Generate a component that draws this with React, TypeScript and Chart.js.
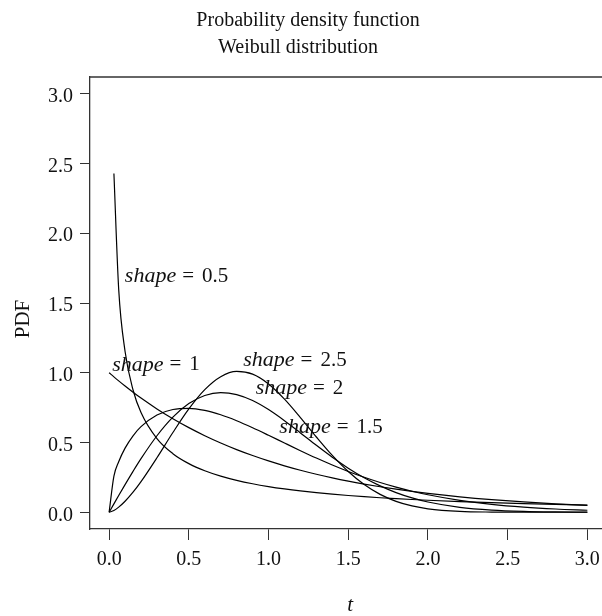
import React, { useEffect, useRef } from "react";
import { Chart, registerables } from "chart.js";

Chart.register(...registerables);

// time grid t
const tValues = [0, 0.03, 0.06, 0.1, 0.15, 0.2, 0.3, 0.4, 0.5, 0.6, 0.7, 0.8, 0.9, 1.0, 1.1, 1.2, 1.3, 1.4, 1.5, 1.6, 1.7, 1.8, 1.9, 2.0, 2.2, 2.4, 2.6, 2.8, 3.0];

// Weibull PDF values (scale 1) for each shape
const pdfShape05 = [null, 2.4276, 1.5977, 1.1525, 0.8764, 0.7149, 0.5279, 0.4200, 0.3487, 0.2975, 0.2589, 0.2286, 0.2041, 0.1839, 0.1670, 0.1526, 0.1402, 0.1294, 0.1200, 0.1116, 0.1041, 0.0974, 0.0914, 0.0860, 0.0765, 0.0686, 0.0618, 0.0561, 0.0511];
const pdfShape1 = [1.0, 0.9704, 0.9418, 0.9048, 0.8607, 0.8187, 0.7408, 0.6703, 0.6065, 0.5488, 0.4966, 0.4493, 0.4066, 0.3679, 0.3329, 0.3012, 0.2725, 0.2466, 0.2231, 0.2019, 0.1827, 0.1653, 0.1496, 0.1353, 0.1108, 0.0907, 0.0743, 0.0608, 0.0498];
const pdfShape15 = [0, 0.2585, 0.3621, 0.4596, 0.5482, 0.6134, 0.6971, 0.7366, 0.7448, 0.7300, 0.6987, 0.6560, 0.6059, 0.5518, 0.4963, 0.4414, 0.3884, 0.3386, 0.2926, 0.2507, 0.2132, 0.1799, 0.1507, 0.1254, 0.0852, 0.0564, 0.0366, 0.0232, 0.0144];
const pdfShape2 = [0, 0.0599, 0.1196, 0.1980, 0.2933, 0.3843, 0.5484, 0.6817, 0.7788, 0.8372, 0.8577, 0.8437, 0.8007, 0.7358, 0.6560, 0.5686, 0.4797, 0.3944, 0.3162, 0.2474, 0.1890, 0.1410, 0.1028, 0.0733, 0.0348, 0.0151, 0.0060, 0.0022, 0.0007];
const pdfShape25 = [0, 0.0130, 0.0367, 0.0788, 0.1440, 0.2196, 0.3910, 0.5716, 0.7407, 0.8791, 0.9718, 1.0092, 0.9899, 0.9197, 0.8107, 0.6787, 0.5395, 0.4073, 0.2920, 0.1985, 0.1280, 0.0782, 0.0452, 0.0247, 0.0062, 0.0012, 0.0002, 0.0000, 0.0000];

// tick labels
const xTickValues = [0, 0.5, 1.0, 1.5, 2.0, 2.5, 3.0];
const yTickValues = [0, 0.5, 1.0, 1.5, 2.0, 2.5, 3.0];

// curve annotations
const labelShapes = ["0.5", "1", "2.5", "2", "1.5"];
const labelX = [0.423, 0.294, 1.166, 1.194, 1.392];
const labelY = [1.69, 1.057, 1.088, 0.89, 0.608];

const titleLines = ["Probability density function", "Weibull distribution"];
const xTitle = "t";
const yTitle = "PDF";

const FONT = "'Liberation Serif', 'Times New Roman', serif";

const seriesList = [pdfShape05, pdfShape1, pdfShape15, pdfShape2, pdfShape25];

function toPoints(ys: (number | null)[]) {
  const pts: { x: number; y: number }[] = [];
  ys.forEach((y, i) => {
    if (y !== null) pts.push({ x: tValues[i], y });
  });
  return pts;
}

const decorPlugin = {
  id: "decor",
  afterDraw(chart: any) {
    const ctx = chart.ctx;
    const area = chart.chartArea;
    const xs = chart.scales.x;
    const ys = chart.scales.y;
    ctx.save();
    // top border of the box
    ctx.strokeStyle = "#333";
    ctx.lineWidth = 1.3;
    ctx.beginPath();
    ctx.moveTo(area.left, area.top);
    ctx.lineTo(area.right, area.top);
    ctx.stroke();

    ctx.fillStyle = "#111";
    // titles
    ctx.font = `20px ${FONT}`;
    ctx.textAlign = "center";
    ctx.textBaseline = "alphabetic";
    ctx.fillText(titleLines[0], 308, 26);
    ctx.fillText(titleLines[1], 298, 53);

    // x title
    ctx.font = `italic 21px ${FONT}`;
    ctx.fillText(xTitle, (area.left + area.right) / 2 + 2, 611);

    // y title
    ctx.save();
    ctx.translate(29, 319);
    ctx.rotate(-Math.PI / 2);
    ctx.font = `21px ${FONT}`;
    ctx.textAlign = "center";
    ctx.textBaseline = "alphabetic";
    ctx.fillText(yTitle, 0, 0);
    ctx.restore();

    // curve labels
    labelShapes.forEach((s, i) => {
      const cx = xs.getPixelForValue(labelX[i]);
      const cy = ys.getPixelForValue(labelY[i]);
      ctx.font = `italic 22px ${FONT}`;
      const w1 = ctx.measureText("shape").width;
      ctx.font = `21px ${FONT}`;
      const w2 = ctx.measureText("=").width;
      const w3 = ctx.measureText(s).width;
      const g1 = 6;
      const g2 = 8;
      const total = w1 + g1 + w2 + g2 + w3;
      let x0 = cx - total / 2;
      ctx.textAlign = "left";
      ctx.textBaseline = "middle";
      ctx.font = `italic 22px ${FONT}`;
      ctx.fillText("shape", x0, cy);
      x0 += w1 + g1;
      ctx.font = `21px ${FONT}`;
      ctx.fillText("=", x0, cy);
      x0 += w2 + g2;
      ctx.fillText(s, x0, cy);
    });
    ctx.restore();
  },
};

export default function App() {
  const canvasRef = useRef<HTMLCanvasElement | null>(null);

  useEffect(() => {
    const canvas = canvasRef.current;
    if (!canvas) return;
    const chart = new Chart(canvas, {
      type: "line",
      data: {
        datasets: seriesList.map((ys, i) => ({
          label: "shape " + ["0.5", "1", "1.5", "2", "2.5"][i],
          data: toPoints(ys),
          borderColor: "#000",
          borderWidth: 1.2,
          pointRadius: 0,
          fill: false,
          cubicInterpolationMode: "monotone" as const,
          spanGaps: true,
        })),
      },
      options: {
        responsive: false,
        animation: false,
        devicePixelRatio: 1,
        layout: { padding: { top: 77, right: 1.5, left: 0, bottom: 0 } },
        plugins: {
          legend: { display: false },
          tooltip: { enabled: false },
          title: { display: false },
        },
        scales: {
          x: {
            type: "linear",
            min: -0.12,
            max: 3.12,
            afterBuildTicks: (scale: any) => {
              scale.ticks = xTickValues.map((v) => ({ value: v }));
            },
            afterFit: (scale: any) => {
              scale.height = 87;
            },
            grid: {
              drawOnChartArea: false,
              drawTicks: true,
              tickLength: 11,
              color: "#333",
              lineWidth: 1,
            },
            border: { display: true, color: "#333", width: 1.3 },
            ticks: {
              autoSkip: false,
              maxRotation: 0,
              minRotation: 0,
              padding: 8,
              color: "#111",
              font: { family: FONT, size: 20 },
              callback: (v: any) => Number(v).toFixed(1),
            },
          },
          y: {
            type: "linear",
            min: -0.12,
            max: 3.12,
            afterBuildTicks: (scale: any) => {
              scale.ticks = yTickValues.map((v) => ({ value: v }));
            },
            afterFit: (scale: any) => {
              scale.width = 90;
            },
            grid: {
              drawOnChartArea: false,
              drawTicks: true,
              tickLength: 10,
              color: "#333",
              lineWidth: 1,
            },
            border: { display: true, color: "#333", width: 1.3 },
            ticks: {
              padding: 7,
              labelOffset: 3,
              color: "#111",
              font: { family: FONT, size: 20 },
              callback: (v: any) => Number(v).toFixed(1),
            },
          },
        },
      },
      plugins: [decorPlugin],
    });
    return () => chart.destroy();
  }, []);

  return (
    <div
      style={{
        position: "fixed",
        left: 0,
        top: 0,
        width: 602,
        height: 616,
        overflow: "hidden",
        background: "#fff",
      }}
    >
      <canvas ref={canvasRef} width={608} height={616} style={{ display: "block" }} />
    </div>
  );
}
